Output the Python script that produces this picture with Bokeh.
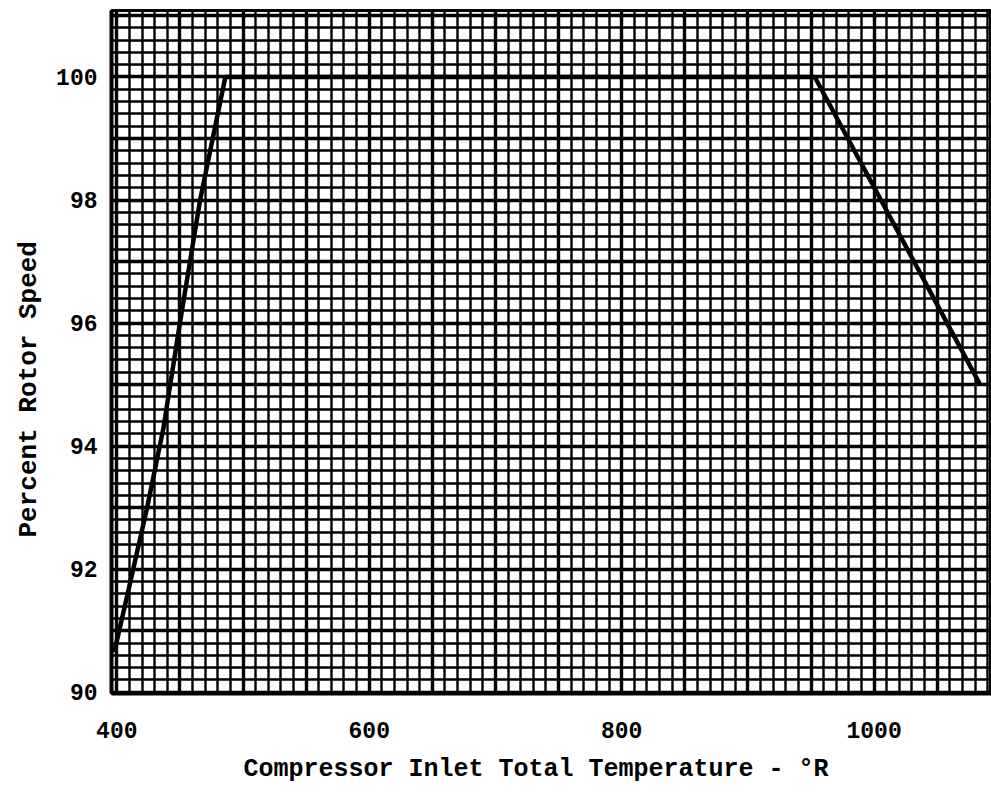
from bokeh.plotting import figure
from bokeh.models import Grid, SingleIntervalTicker, FixedTicker, Range1d, Title
from bokeh.embed import file_html
from bokeh.resources import INLINE

# Data
temperature = [398, 413, 424, 437, 450, 466, 486, 953, 1084]
rotor_speed = [90.65, 92.0, 93.0, 94.3, 96.0, 98.0, 100.0, 100.0, 95.0]

x_ticks = [400, 600, 800, 1000]
y_ticks = [90, 92, 94, 96, 98, 100]

x_title = "Compressor Inlet Total Temperature - °R"
y_title = "Percent Rotor Speed"

FONT = "Liberation Mono"

p = figure(width=991, height=797, output_backend="svg", toolbar_location=None,
           x_range=Range1d(395.8, 1093.0), y_range=Range1d(89.98, 101.08),
           min_border_left=111, min_border_right=0, min_border_top=10,
           min_border_bottom=104)
p.background_fill_color = "white"
p.border_fill_color = "white"
p.outline_line_color = "black"
p.outline_line_width = 3

p.xgrid.visible = False
p.ygrid.visible = False

# graph-paper grid: fine and heavy lines
for dim, interval, width in [(0, 10, 2.4), (0, 50, 3.4), (1, 0.2, 2.4), (1, 1.0, 3.4)]:
    g = Grid(dimension=dim, ticker=SingleIntervalTicker(interval=interval, num_minor_ticks=0),
             grid_line_color="black", grid_line_width=width)
    p.add_layout(g)

p.line(temperature, rotor_speed, line_color="black", line_width=4.5)

p.xaxis.ticker = FixedTicker(ticks=x_ticks)
p.yaxis.ticker = FixedTicker(ticks=y_ticks)
for ax in (p.xaxis[0], p.yaxis[0]):
    ax.major_tick_line_color = None
    ax.minor_tick_line_color = None
    ax.axis_line_color = "black"
    ax.axis_line_width = 4
    ax.major_label_text_font = FONT
    ax.major_label_text_font_style = "bold"
    ax.major_label_text_font_size = "23px"
    ax.major_label_text_color = "black"
p.xaxis.major_label_standoff = 22
p.yaxis.major_label_standoff = 8

# axis titles (placed slightly off-centre, as in the original)
p.add_layout(Title(text=x_title, align="left", offset=132, standoff=24,
                   text_font=FONT, text_font_style="bold", text_font_size="25px",
                   text_color="black"), "below")
p.add_layout(Title(text=y_title, align="left", offset=156, standoff=20,
                   text_font=FONT, text_font_style="bold", text_font_size="26px",
                   text_color="black"), "left")

open("out.html", "w").write(file_html(p, INLINE))
